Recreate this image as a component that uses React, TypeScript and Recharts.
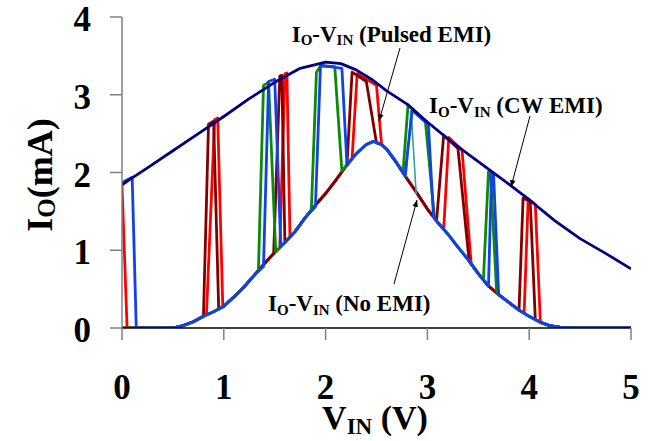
import React from 'react';
import { LineChart, Line, XAxis, YAxis } from 'recharts';

const FONT = '"Liberation Serif", "Times New Roman", serif';

const xTicks = [0, 1, 2, 3, 4, 5];
const yTicks = [0, 1, 2, 3, 4];

// I-V with no EMI
const noEmiX = [0, 0.5, 0.6, 0.7, 0.8, 0.9, 1.0, 1.1, 1.2, 1.3, 1.4, 1.5, 1.6, 1.7, 1.8, 1.9, 2.0, 2.1, 2.2, 2.3, 2.4, 2.47, 2.55, 2.6, 2.7, 2.8, 2.9, 3.0, 3.1, 3.2, 3.3, 3.4, 3.5, 3.6, 3.7, 3.8, 3.9, 4.0, 4.1, 4.2, 4.3, 4.4, 5.0];
const noEmiY = [0, 0, 0.03, 0.08, 0.15, 0.21, 0.28, 0.40, 0.53, 0.68, 0.83, 0.97, 1.10, 1.24, 1.42, 1.58, 1.73, 1.90, 2.08, 2.24, 2.36, 2.40, 2.36, 2.30, 2.12, 1.92, 1.73, 1.53, 1.36, 1.21, 1.04, 0.88, 0.70, 0.54, 0.43, 0.33, 0.23, 0.15, 0.08, 0.03, 0.01, 0, 0];

// I-V with CW EMI
const cwX = [0, 0.1, 0.25, 0.5, 0.75, 1.0, 1.25, 1.5, 1.75, 2.0, 2.15, 2.3, 2.45, 2.6, 2.8, 3.0, 3.25, 3.5, 3.75, 4.0, 4.25, 4.5, 4.75, 5.0];
const cwY = [1.84, 1.93, 2.06, 2.28, 2.50, 2.72, 2.95, 3.16, 3.34, 3.42, 3.40, 3.32, 3.20, 3.05, 2.88, 2.65, 2.38, 2.14, 1.90, 1.65, 1.38, 1.15, 0.96, 0.76];

// Pulsed EMI series: excursions away from the no-EMI curve
const redPulses: [number, number][][] = [
  [[0, 1.84], [0.05, 0]],
  [[0.83, 0.18], [0.91, 2.68], [0.94, 2.70], [0.99, 0.27]],
  [[1.55, 1.03], [1.60, 3.27], [1.62, 3.28], [1.65, 1.17]],
  [[2.26, 2.18], [2.31, 3.27], [2.50, 3.12], [2.55, 2.36]],
  [[3.16, 1.27], [3.21, 2.45], [3.34, 2.29], [3.43, 0.83]],
  [[3.95, 0.19], [3.99, 1.66], [4.06, 1.59], [4.11, 0.07]],
];
const darkRedPulses: [number, number][][] = [
  [[0.80, 0.15], [0.85, 2.62], [0.90, 2.66], [0.95, 0.24]],
  [[1.49, 0.96], [1.55, 3.24], [1.57, 3.25], [1.60, 1.10]],
  [[2.21, 2.10], [2.26, 3.29], [2.40, 3.17], [2.50, 2.38]],
  [[3.09, 1.38], [3.16, 2.48], [3.30, 2.31], [3.41, 0.86]],
  [[3.90, 0.23], [3.94, 1.67], [4.01, 1.63], [4.06, 0.11]],
];
const greenPulses: [number, number][][] = [
  [[1.34, 0.74], [1.39, 3.12], [1.44, 3.16], [1.51, 0.98]],
  [[1.86, 1.52], [1.91, 3.29], [1.95, 3.37], [2.09, 3.36], [2.16, 2.02]],
  [[2.76, 2.00], [2.81, 2.87], [2.98, 2.66], [3.07, 1.41]],
  [[3.55, 0.62], [3.60, 2.01], [3.62, 2.00], [3.68, 0.46]],
];
const bluePulses: [number, number][][] = [
  [[0, 1.87], [0.10, 1.94], [0.14, 0]],
  [[1.39, 0.79], [1.44, 3.17], [1.50, 3.20], [1.56, 1.05]],
  [[1.90, 1.56], [1.95, 3.38], [2.16, 3.34], [2.21, 2.10]],
  [[2.78, 1.96], [2.85, 2.80], [3.01, 2.61], [3.06, 1.43]],
  [[3.60, 0.54], [3.63, 1.99], [3.65, 1.97], [3.70, 0.43]],
];
const tealX = [2.79, 2.84, 2.89];
const tealY = [1.94, 2.80, 1.72];

type Pt = { x: number; y: number };
const toPts = (xs: number[], ys: number[]): Pt[] => xs.map((x, i) => ({ x, y: ys[i] }));
const baseline = toPts(noEmiX, noEmiY);
const cwData = toPts(cwX, cwY);
const tealData = toPts(tealX, tealY);

function withPulses(pulses: [number, number][][]): Pt[] {
  const extra = pulses.flat().map(([x, y]) => ({ x, y }));
  const kept = baseline.filter(
    (p) => !pulses.some((pl) => p.x >= pl[0][0] && p.x <= pl[pl.length - 1][0])
  );
  return [...kept, ...extra].sort((a, b) => a.x - b.x);
}

const redData = withPulses(redPulses);
const darkRedData = withPulses(darkRedPulses);
const greenData = withPulses(greenPulses);
const blueData = withPulses(bluePulses);

const XTick = (props: any) => {
  const { x, y, payload } = props;
  return (
    <text x={x} y={y + 57} textAnchor="middle" fontFamily={FONT} fontWeight="bold" fontSize={35} fill="#000">
      {payload.value}
    </text>
  );
};

const YTick = (props: any) => {
  const { x, y, payload } = props;
  return (
    <text x={x - 17} y={y + 14} textAnchor="end" fontFamily={FONT} fontWeight="bold" fontSize={35} fill="#000">
      {payload.value}
    </text>
  );
};

const lineProps = {
  type: 'linear' as const,
  dataKey: 'y',
  dot: false,
  isAnimationActive: false,
  strokeLinejoin: 'round' as const,
};

const Annot = ({ x, y, tail }: { x: number; y: number; tail: string }) => (
  <text x={x} y={y} fontFamily={FONT} fontWeight="bold" fontSize={23} fill="#000" style={{ whiteSpace: 'pre' }}>
    I
    <tspan fontSize={15} dy={3.5}>O</tspan>
    <tspan dy={-3.5}>-V</tspan>
    <tspan fontSize={15} dy={3.5}>IN</tspan>
    <tspan dy={-3.5}>{' ' + tail}</tspan>
  </text>
);

export default function App() {
  return (
    <div style={{ position: 'absolute', left: 0, top: 0, width: 649, height: 441, background: '#fff' }}>
      <LineChart width={649} height={441} margin={{ top: 17, right: 18, bottom: 0, left: 0 }}>
        <XAxis
          dataKey="x"
          type="number"
          domain={[0, 5]}
          ticks={xTicks}
          height={113}
          tickSize={12}
          tickMargin={2}
          axisLine={{ stroke: '#000', strokeWidth: 1.5 }}
          tickLine={{ stroke: '#808080', strokeWidth: 1.5 }}
          tick={<XTick />}
          allowDataOverflow
        />
        <YAxis
          type="number"
          domain={[0, 4]}
          ticks={yTicks}
          width={122}
          tickSize={12}
          tickMargin={2}
          axisLine={{ stroke: '#808080', strokeWidth: 1.5 }}
          tickLine={{ stroke: '#808080', strokeWidth: 1.5 }}
          tick={<YTick />}
          allowDataOverflow
        />
        <Line {...lineProps} data={baseline} stroke="#3a7fd8" strokeWidth={3} />
        <Line {...lineProps} data={redData} stroke="#ff0000" strokeWidth={2.8} />
        <Line {...lineProps} data={darkRedData} stroke="#800000" strokeWidth={2.8} />
        <Line {...lineProps} data={greenData} stroke="#0a8a0a" strokeWidth={2.8} />
        <Line {...lineProps} data={tealData} stroke="#33a0a0" strokeWidth={1.6} />
        <Line {...lineProps} data={blueData} stroke="#1040f0" strokeWidth={2.8} />
        <Line {...lineProps} data={cwData} stroke="#000080" strokeWidth={2.8} />
      </LineChart>
      <svg
        width={649}
        height={441}
        style={{ position: 'absolute', left: 0, top: 0, pointerEvents: 'none' }}
      >
        <defs>
          <marker id="ah" viewBox="0 0 10 10" refX="10" refY="5" markerWidth="7" markerHeight="7" orient="auto">
            <path d="M0,1 L10,5 L0,9 z" fill="#000" />
          </marker>
        </defs>
        <Annot x={291.7} y={41.7} tail="(Pulsed EMI)" />
        <Annot x={429} y={113} tail="(CW EMI)" />
        <Annot x={268} y={311} tail="(No EMI)" />
        <line x1={400} y1={48} x2={379} y2={121} stroke="#000" strokeWidth={1} markerEnd="url(#ah)" />
        <line x1={530} y1={116} x2={511} y2={187} stroke="#000" strokeWidth={1} markerEnd="url(#ah)" />
        <line x1={394} y1={284} x2={417} y2={200} stroke="#000" strokeWidth={1} markerEnd="url(#ah)" />
        {/* axis titles */}
        <text x={375} y={429} textAnchor="middle" fontFamily={FONT} fontWeight="bold" fontSize={34} fill="#000" style={{ whiteSpace: 'pre' }}>
          V
          <tspan fontSize={23} dy={5}>IN</tspan>
          <tspan dy={-5}>{' (V)'}</tspan>
        </text>
        <text
          x={52}
          y={175}
          textAnchor="middle"
          fontFamily={FONT}
          fontWeight="bold"
          fontSize={36}
          fill="#000"
          transform="rotate(-90 52 175)"
        >
          I
          <tspan fontSize={25} dy={3}>O</tspan>
          <tspan dy={-3}>(mA)</tspan>
        </text>
      </svg>
    </div>
  );
}
